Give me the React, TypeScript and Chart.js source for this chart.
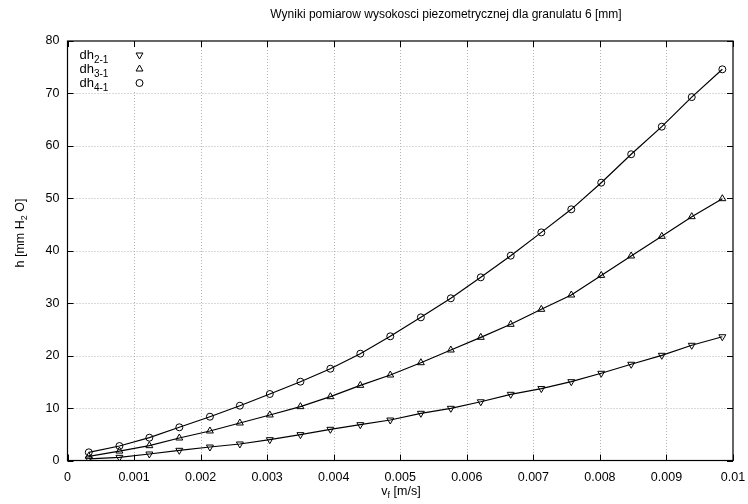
import React, { useEffect, useRef } from "react";
import { Chart, registerables } from "chart.js";

Chart.register(...registerables);

const velocity = [0.00032, 0.00078, 0.00123, 0.00168, 0.00214, 0.00259, 0.00304, 0.0035, 0.00395, 0.0044, 0.00485, 0.00531, 0.00576, 0.00621, 0.00666, 0.00712, 0.00757, 0.00802, 0.00847, 0.00893, 0.00938, 0.00984];
const dh21 = [0.3, 0.6, 1.24, 1.94, 2.57, 3.15, 3.97, 4.93, 5.95, 6.83, 7.72, 9.0, 9.95, 11.2, 12.62, 13.72, 15.03, 16.63, 18.35, 20.06, 21.97, 23.6];
const dh31 = [0.8, 1.8, 2.83, 4.29, 5.63, 7.15, 8.68, 10.27, 12.17, 14.33, 16.3, 18.65, 21.07, 23.49, 25.97, 28.83, 31.56, 35.3, 39.0, 42.75, 46.5, 49.93];
const dh41 = [1.56, 2.76, 4.35, 6.33, 8.35, 10.45, 12.68, 15.03, 17.5, 20.37, 23.68, 27.3, 30.93, 34.93, 39.06, 43.5, 47.9, 52.98, 58.4, 63.66, 69.3, 74.6];

const xTicks = [0, 0.001, 0.002, 0.003, 0.004, 0.005, 0.006, 0.007, 0.008, 0.009, 0.01];
const xTickLabels = ["0", "0.001", "0.002", "0.003", "0.004", "0.005", "0.006", "0.007", "0.008", "0.009", "0.01"];
const yTicks = [0, 10, 20, 30, 40, 50, 60, 70, 80];
const yTickLabels = ["0", "10", "20", "30", "40", "50", "60", "70", "80"];

const titleText = "Wyniki pomiarow wysokosci piezometrycznej dla granulatu 6 [mm]";
const seriesNames = [
  { main: "dh", sub: "2-1" },
  { main: "dh", sub: "3-1" },
  { main: "dh", sub: "4-1" },
];
const seriesStyles = ["triangleDown", "triangle", "circle"];

const FONT = "'Liberation Sans', Arial, Helvetica, sans-serif";

type Part = { t: string; sub?: boolean };

function richWidth(ctx: CanvasRenderingContext2D, parts: Part[], size: number, subSize: number) {
  let w = 0;
  for (const p of parts) {
    ctx.font = `${p.sub ? subSize : size}px ${FONT}`;
    w += ctx.measureText(p.t).width;
  }
  return w;
}

function drawRich(ctx: CanvasRenderingContext2D, parts: Part[], x: number, y: number, size: number, subSize: number, subShift: number, align: "left" | "center") {
  const w = richWidth(ctx, parts, size, subSize);
  let cx = align === "center" ? x - w / 2 : x;
  ctx.textAlign = "left";
  ctx.textBaseline = "alphabetic";
  for (const p of parts) {
    ctx.font = `${p.sub ? subSize : size}px ${FONT}`;
    ctx.fillText(p.t, cx, p.sub ? y + subShift : y);
    cx += ctx.measureText(p.t).width;
  }
}

function drawMarker(ctx: CanvasRenderingContext2D, style: string, x: number, y: number) {
  ctx.beginPath();
  if (style === "circle") {
    ctx.arc(x, y, 3.5, 0, Math.PI * 2);
  } else {
    const r = 4;
    const down = style === "triangleDown";
    let rad = down ? Math.PI : 0;
    for (let i = 0; i < 3; i++) {
      const px = x + Math.sin(rad) * r;
      const py = y - Math.cos(rad) * r;
      if (i === 0) ctx.moveTo(px, py);
      else ctx.lineTo(px, py);
      rad += (2 * Math.PI) / 3;
    }
    ctx.closePath();
  }
  ctx.strokeStyle = "#000";
  ctx.lineWidth = 1;
  ctx.stroke();
}

const framePlugin = {
  id: "gnuplotFrame",
  beforeDatasetsDraw(chart: any) {
    const { ctx, chartArea: a, scales } = chart;
    const xs = scales.x;
    const ys = scales.y;
    ctx.save();
    ctx.strokeStyle = "#b4b4b4";
    ctx.lineWidth = 1;
    ctx.setLineDash([1, 2]);
    for (const v of xTicks) {
      const px = Math.round(xs.getPixelForValue(v)) + 0.5;
      if (px <= a.left + 1 || px >= a.right - 1) continue;
      ctx.beginPath();
      ctx.moveTo(px, a.top);
      ctx.lineTo(px, a.bottom);
      ctx.stroke();
    }
    for (const v of yTicks) {
      const py = Math.round(ys.getPixelForValue(v)) + 0.5;
      if (py <= a.top + 1 || py >= a.bottom - 1) continue;
      ctx.beginPath();
      ctx.moveTo(a.left, py);
      ctx.lineTo(a.right, py);
      ctx.stroke();
    }
    ctx.setLineDash([]);
    // legend background
    ctx.fillStyle = "#fff";
    ctx.fillRect(a.left + 1, a.top + 1, 92, 50);
    ctx.restore();
  },
  afterDraw(chart: any) {
    const { ctx, chartArea: a, scales } = chart;
    const xs = scales.x;
    const ys = scales.y;
    ctx.save();
    // border
    ctx.strokeStyle = "#000";
    ctx.lineWidth = 1.2;
    ctx.strokeRect(a.left, a.top, a.right - a.left, a.bottom - a.top);
    // inward ticks
    ctx.lineWidth = 1;
    const tl = 6;
    ctx.beginPath();
    for (const v of xTicks) {
      const px = Math.round(xs.getPixelForValue(v)) + 0.5;
      ctx.moveTo(px, a.bottom);
      ctx.lineTo(px, a.bottom - tl);
      ctx.moveTo(px, a.top);
      ctx.lineTo(px, a.top + tl);
    }
    for (const v of yTicks) {
      const py = Math.round(ys.getPixelForValue(v)) + 0.5;
      ctx.moveTo(a.left, py);
      ctx.lineTo(a.left + tl, py);
      ctx.moveTo(a.right, py);
      ctx.lineTo(a.right - tl, py);
    }
    ctx.stroke();

    // tick labels
    ctx.fillStyle = "#000";
    ctx.font = `12.5px ${FONT}`;
    ctx.textAlign = "center";
    ctx.textBaseline = "middle";
    xTicks.forEach((v, i) => {
      ctx.fillText(xTickLabels[i], xs.getPixelForValue(v), a.bottom + 17);
    });
    ctx.textAlign = "right";
    yTicks.forEach((v, i) => {
      ctx.fillText(yTickLabels[i], a.left - 8, ys.getPixelForValue(v));
    });

    // title
    ctx.textAlign = "center";
    ctx.font = `12px ${FONT}`;
    ctx.fillText(titleText, 446, 15);

    // x label
    drawRich(ctx, [{ t: "v" }, { t: "f", sub: true }, { t: " [m/s]" }], 401, 495, 12.5, 9, 3, "center");

    // y label
    ctx.save();
    ctx.translate(24, 233);
    ctx.rotate(-Math.PI / 2);
    drawRich(ctx, [{ t: "h [mm H" }, { t: "2", sub: true }, { t: " O]" }], 0, 0, 12.5, 9, 3, "center");
    ctx.restore();

    // legend
    seriesNames.forEach((s, i) => {
      const y = a.top + 14 + i * 14;
      ctx.fillStyle = "#000";
      drawRich(ctx, [{ t: s.main }, { t: s.sub, sub: true }], a.left + 12, y + 4, 13, 10, 4, "left");
      drawMarker(ctx, seriesStyles[i], a.left + 72, y);
    });
    ctx.restore();
  },
};

function pts(values: number[]) {
  return velocity.map((v, i) => ({ x: v, y: values[i] }));
}

export default function App() {
  const ref = useRef<HTMLCanvasElement | null>(null);
  useEffect(() => {
    if (!ref.current) return;
    const common = {
      borderColor: "#000",
      borderWidth: 1.2,
      pointBorderColor: "#000",
      pointBackgroundColor: "rgba(0,0,0,0)",
      pointBorderWidth: 1,
      tension: 0,
      fill: false,
    };
    const chart = new Chart(ref.current, {
      type: "line",
      data: {
        datasets: [
          { ...common, label: "dh2-1", data: pts(dh21), pointStyle: "triangle", pointRotation: 180, pointRadius: 4 },
          { ...common, label: "dh3-1", data: pts(dh31), pointStyle: "triangle", pointRadius: 4 },
          { ...common, label: "dh4-1", data: pts(dh41), pointStyle: "circle", pointRadius: 3.5 },
        ],
      },
      options: {
        responsive: false,
        animation: false,
        devicePixelRatio: 1,
        layout: { padding: { left: 67.5, right: 15, top: 41, bottom: 43.5 } },
        scales: {
          x: { type: "linear", min: 0, max: 0.01, display: false },
          y: { type: "linear", min: 0, max: 80, display: false },
        },
        plugins: { legend: { display: false }, title: { display: false }, tooltip: { enabled: false } },
        events: [],
      },
      plugins: [framePlugin],
    } as any);
    return () => chart.destroy();
  }, []);
  return (
    <div style={{ position: "absolute", left: 0, top: 0, width: 748, height: 504, background: "#fff" }}>
      <canvas ref={ref} width={748} height={504} style={{ display: "block" }} />
    </div>
  );
}
